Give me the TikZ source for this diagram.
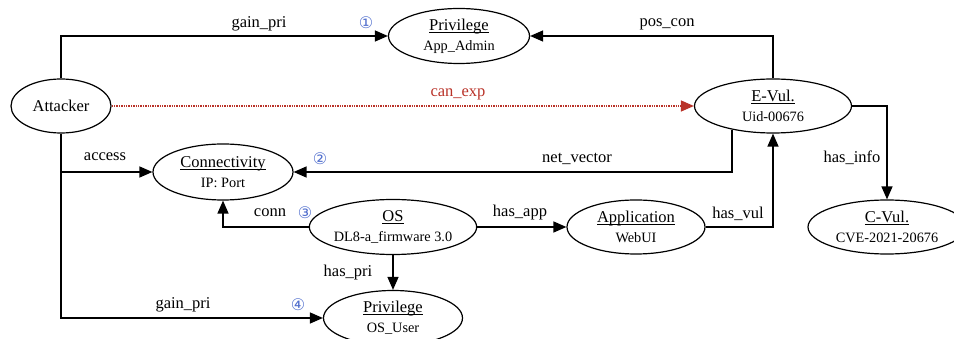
\documentclass[tikz,border=0pt]{standalone}
\usepackage{fontspec}
\setmainfont{Liberation Serif}
\newfontfamily\symf{DejaVu Sans}
\usetikzlibrary{arrows.meta,shapes.geometric}
\definecolor{numblue}{RGB}{80,110,205}
\definecolor{expred}{RGB}{185,50,40}
\newcommand{\subl}[1]{{\fontsize{14.3}{20}\selectfont #1}}
\newsavebox{\ttlbox}
\newcommand{\ttl}[1]{\sbox{\ttlbox}{#1}\rlap{\rule[-2.2pt]{\wd\ttlbox}{0.8pt}}\usebox{\ttlbox}}
\begin{document}
\begin{tikzpicture}[x=1pt,y=-1pt,
  ell/.style={draw, ellipse, line width=1.2pt, inner sep=0pt, align=center,
    font=\fontsize{16.5}{20}\selectfont},
  arr/.style={line width=1.4pt, -{Triangle[length=13pt,width=11pt]}},
  lab/.style={font=\fontsize{16.5}{20}\selectfont, inner sep=0pt},
  num/.style={font=\symf\fontsize{16}{16}\selectfont, text=numblue, inner sep=0pt}]
\useasboundingbox (0,0) rectangle (954,339);

% nodes
\node[ell, minimum width=100pt, minimum height=54pt] (att) at (61,106) {Attacker};
\node[ell, minimum width=141pt, minimum height=55pt] (priv1) at (459,36) {\ttl{Privilege}\\\subl{App\_Admin}};
\node[ell, minimum width=157pt, minimum height=54pt] (evul) at (773,106) {\ttl{E-Vul.}\\\subl{Uid-00676}};
\node[ell, minimum width=158pt, minimum height=54pt] (cvul) at (887,227) {\ttl{C-Vul.}\\\subl{CVE-2021-20676}};
\node[ell, minimum width=140pt, minimum height=56pt] (conn) at (223,172) {\ttl{Connectivity}\\\subl{IP: Port}};
\node[ell, minimum width=165pt, minimum height=55pt] (os) at (393,227) {\ttl{OS}\\\subl{DL8-a\_firmware 3.0}};
\node[ell, minimum width=138pt, minimum height=54pt] (app) at (636,227) {\ttl{Application}\\\subl{WebUI}};
\node[ell, minimum width=139pt, minimum height=55pt] (priv2) at (393,318) {\ttl{Privilege}\\\subl{OS\_User}};

% connectors
\draw[arr] (att.north) |- (priv1.west);
\draw[arr] (evul.north) |- (priv1.east);
\draw[line width=1.4pt, densely dotted, expred, -{Triangle[length=13pt,width=11pt]}] (att.east) -- (evul.west);
\draw[arr] (att.south) |- (priv2.west);
\draw[arr] (att.south |- conn.west) -- (conn.west);
\draw[arr] (evul.210) |- (conn.east);
\draw[arr] (evul.east) -| (cvul.north);
\draw[arr] (app.east) -| (evul.south);
\draw[arr] (os.east) -- (app.west);
\draw[arr] (os.west) -| (conn.south);
\draw[arr] (os.south) -- (priv2.north);

% labels
\node[lab] (l1) at (259,24) {gain\_pri};
\node[lab] (l2) at (667,24) {pos\_con};
\node[lab, text=expred] (l3) at (458,94) {can\_exp};
\node[lab] (l4) at (105,157) {access};
\node[lab] (l5) at (577,159) {net\_vector};
\node[lab] (l6) at (852,158) {has\_info};
\node[lab] (l7) at (738,214) {has\_vul};
\node[lab] (l8) at (520,213) {has\_app};
\node[lab] (l9) at (270,213) {conn};
\node[lab] (l10) at (348,273) {has\_pri};
\node[lab] (l11) at (183,305) {gain\_pri};

\node[num] (n1) at (366,23) {①};
\node[num] (n2) at (320,159) {②};
\node[num] (n3) at (305,213) {③};
\node[num] (n4) at (298,305) {④};
\end{tikzpicture}
\end{document}
